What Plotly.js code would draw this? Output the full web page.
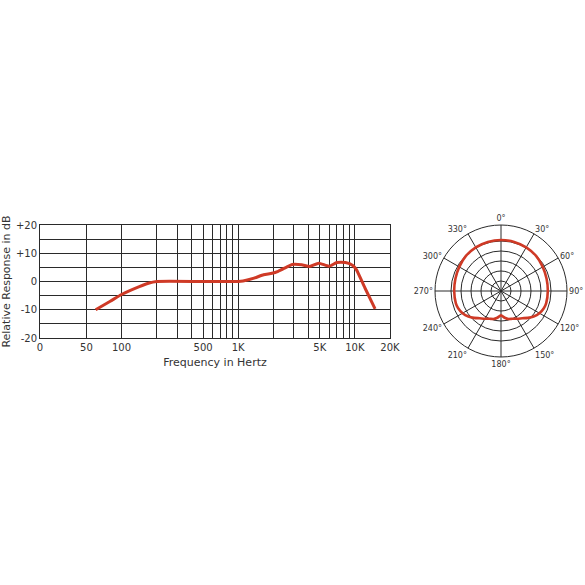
<!DOCTYPE html>
<html>
<head>
<meta charset="utf-8">
<script src="https://cdn.plot.ly/plotly-3.0.1.min.js"></script>
<style>html,body{margin:0;padding:0;background:#fff}#chart{width:585px;height:585px}</style>
</head>
<body>
<div id="chart"></div>
<script>
// Frequency response (Hz, relative dB)
var freqHz = [60, 80, 100, 142, 170, 200, 500, 1000, 1100, 1390, 1650, 1950, 2200, 2600, 2900, 3500, 4100, 4900, 6000, 7000, 8300, 9600, 10300, 12200, 14900];
var responseDb = [-10, -7, -4.6, -1.8, -0.6, 0, 0, 0, 0.2, 1.3, 2.4, 2.9, 3.6, 5.1, 6.0, 5.9, 5.3, 6.5, 5.4, 6.7, 6.7, 5.7, 4.2, -2.3, -9.7];

// x-axis grid positions and labels
var xGridVals = [20, 50, 100, 200, 300, 400, 500, 600, 700, 800, 900, 1000, 2000, 3000, 4000, 5000, 6000, 7000, 8000, 9000, 10000, 20000];
var xGridText = ['0', '50', '100', '', '', '', '500', '', '', '', '', '1K', '', '', '', '5K', '', '', '', '', '10K', '20K'];
var yGridVals = [-20, -15, -10, -5, 0, 5, 10, 15, 20];
var yGridText = ['-20', '', '-10', '', '0', '', '+10', '', '+20'];

// Polar pattern (degrees, relative radius)
var polarAngles = [0, 15, 30, 45, 60, 75, 90, 105, 112, 120, 128, 135, 142, 150, 158, 165, 172, 180, 188, 195, 202, 210, 218, 225, 232, 240, 248, 255, 270, 285, 300, 315, 330, 345, 360];
var polarLevel = [25.5, 25.4, 25.2, 24.8, 24.1, 23.6, 23.4, 23.4, 23.1, 22.2, 20.7, 19.0, 17.3, 16.0, 15.0, 14.5, 13.5, 12.2, 13.5, 14.5, 15.0, 16.0, 17.3, 19.0, 20.7, 22.2, 23.1, 23.4, 23.4, 23.6, 24.1, 24.8, 25.2, 25.4, 25.5];
var polarTicks = [0, 30, 60, 90, 120, 150, 180, 210, 240, 270, 300, 330];
var polarTickText = ['0°', '30°', '60°', '90°', '120°', '150°', '180°', '210°', '240°', '270°', '300°', '330°'];
var polarRings = [5, 10, 15, 20, 25];

var red = '#cf3a26';
var grid = '#2a2a2a';
var fontFam = 'DejaVu Sans, Arial, sans-serif';

var traces = [
  {
    type: 'scatter', mode: 'lines', x: freqHz, y: responseDb,
    line: {color: red, width: 3, shape: 'spline', smoothing: 0.5},
    hoverinfo: 'skip', showlegend: false
  },
  {
    type: 'scatterpolar', mode: 'lines', theta: polarAngles, r: polarLevel,
    line: {color: red, width: 2.6, shape: 'spline', smoothing: 0.6},
    subplot: 'polar', hoverinfo: 'skip', showlegend: false
  }
];

var layout = {
  width: 585, height: 585,
  margin: {l: 0, r: 0, t: 0, b: 0},
  paper_bgcolor: '#fff', plot_bgcolor: '#fff',
  font: {family: fontFam, color: '#333', size: 10},
  xaxis: {
    type: 'log',
    range: [Math.log10(20), Math.log10(20000)],
    domain: [40/585, 390/585],
    tickmode: 'array', tickvals: xGridVals, ticktext: xGridText,
    showgrid: true, gridcolor: grid, gridwidth: 1,
    showline: true, linecolor: grid, linewidth: 1, mirror: true,
    ticks: '', zeroline: false, automargin: false,
    tickfont: {size: 10, color: '#333'},
    title: {text: 'Frequency in Hertz', font: {size: 11, color: '#333'}, standoff: 6}
  },
  yaxis: {
    range: [-20, 20],
    domain: [1 - 338/585, 1 - 225/585],
    tickmode: 'array', tickvals: yGridVals, ticktext: yGridText,
    showgrid: true, gridcolor: grid, gridwidth: 1,
    showline: true, linecolor: grid, linewidth: 1, mirror: true,
    ticks: '', zeroline: false, automargin: false,
    tickfont: {size: 10, color: '#333'},
    title: {text: 'Relative Response in dB', font: {size: 11, color: '#333'}, standoff: 4}
  },
  polar: {
    domain: {x: [(501-66)/585, (501+66)/585], y: [1-(291+66)/585, 1-(291-66)/585]},
    bgcolor: '#fff',
    radialaxis: {
      range: [0, 33], tickmode: 'array', tickvals: polarRings,
      showticklabels: false, ticks: '', showline: false,
      showgrid: true, gridcolor: grid, gridwidth: 1
    },
    angularaxis: {
      direction: 'clockwise', rotation: 90,
      tickmode: 'array', tickvals: polarTicks, ticktext: polarTickText,
      ticks: '', showline: true, linecolor: grid, linewidth: 1,
      showgrid: true, gridcolor: grid, gridwidth: 1,
      tickfont: {size: 8, color: '#333'}
    }
  }
};

Plotly.newPlot('chart', traces, layout, {staticPlot: true, displayModeBar: false});
</script>
</body>
</html>
